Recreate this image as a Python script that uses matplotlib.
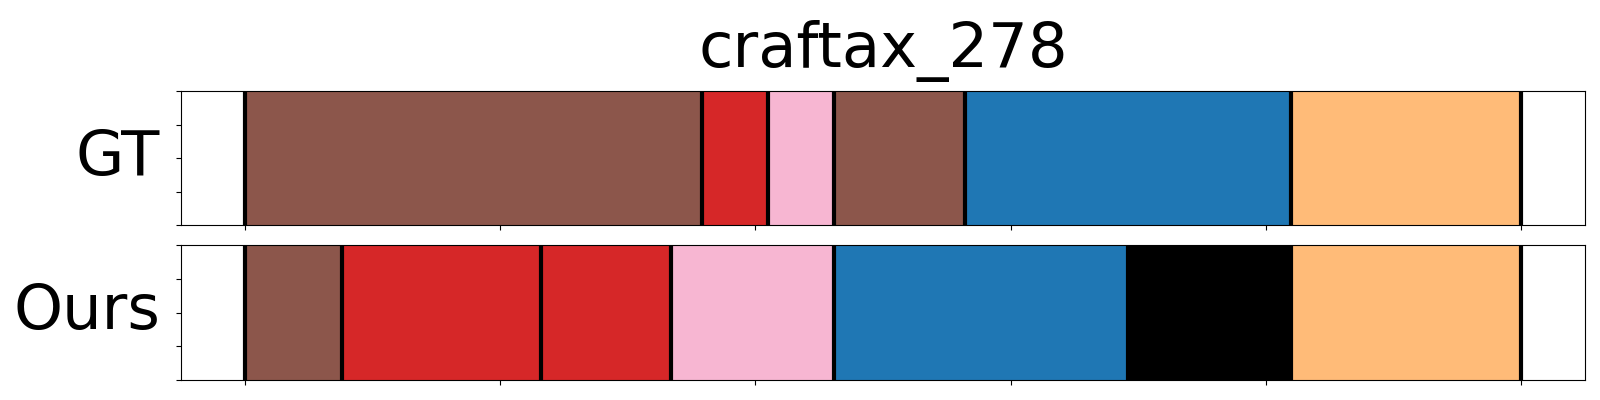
import matplotlib
matplotlib.use("Agg")
import matplotlib.pyplot as plt

# segment data (frame indices), total length 500
n_frames = 500
gt_bounds = [0, 179, 205, 231, 282, 410, 500]
gt_labels = ["brown", "red", "pink", "brown", "blue", "orange"]
ours_bounds = [0, 38, 116, 167, 231, 346, 410, 500]
ours_labels = ["brown", "red", "red", "pink", "blue", "black", "orange"]

colors = {
    "brown": "#8c564b",
    "red": "#d62728",
    "pink": "#f7b6d2",
    "blue": "#1f77b4",
    "orange": "#ffbb78",
    "black": "#000000",
}

fig = plt.figure(figsize=(16, 4), dpi=100)
ax1 = fig.add_axes([0.113, 0.4375, 0.8776, 0.335])
ax2 = fig.add_axes([0.113, 0.05, 0.8776, 0.3375])


def draw_row(ax, bounds, labels, name):
    for i, lab in enumerate(labels):
        ax.axvspan(bounds[i], bounds[i + 1], color=colors[lab], lw=0)
    for b in bounds:
        ax.axvline(b, color="black", lw=3)
    ax.set_xlim(-0.05 * n_frames, 1.05 * n_frames)
    ax.set_ylim(0, 1)
    ax.set_xticks(range(0, n_frames + 1, 100))
    ax.set_xticklabels([])
    ax.set_yticks([0, 0.25, 0.5, 0.75, 1.0])
    ax.set_yticklabels([])
    ax.set_ylabel(name, fontsize=45, rotation=0, ha="right", va="center", labelpad=8)


draw_row(ax1, gt_bounds, gt_labels, "GT")
draw_row(ax2, ours_bounds, ours_labels, "Ours")
ax1.set_title("craftax_278", fontsize=45, pad=17)

fig.savefig("out.png", dpi=100)
